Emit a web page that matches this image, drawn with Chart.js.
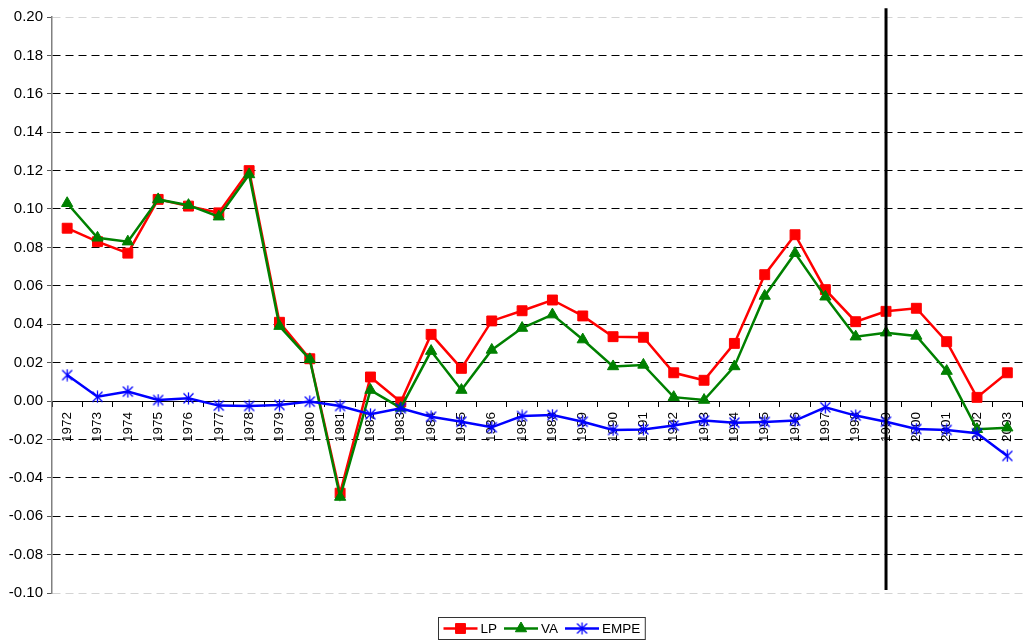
<!DOCTYPE html>
<html lang="en">
<head>
    <meta charset="UTF-8">
    <title>LP / VA / EMPE growth</title>
    <script src="https://cdn.jsdelivr.net/npm/chart.js"></script>
    <style>
        body {
            margin: 0;
            background: #ffffff;
            overflow: hidden;
        }
        #growth-chart {
            display: block;
        }
    </style>
</head>
<body>
    <canvas id="growth-chart" width="1031" height="641"></canvas>

    <script>
        // yearly growth rates
        const years = ['1972', '1973', '1974', '1975', '1976', '1977', '1978', '1979', '1980', '1981',
            '1982', '1983', '1984', '1985', '1986', '1987', '1988', '1989', '1990', '1991',
            '1992', '1993', '1994', '1995', '1996', '1997', '1998', '1999', '2000', '2001',
            '2002', '2003'];

        const lpValues = [0.090, 0.083, 0.077, 0.105, 0.1015, 0.098, 0.120, 0.041, 0.022, -0.048,
            0.0125, -0.0005, 0.0347, 0.017, 0.0417, 0.047, 0.0526, 0.0443, 0.0335, 0.0332,
            0.0147, 0.0108, 0.030, 0.0658, 0.0866, 0.058, 0.0413, 0.0467, 0.0483, 0.0309,
            0.0019, 0.0147];

        const vaValues = [0.103, 0.085, 0.083, 0.105, 0.102, 0.096, 0.118, 0.039, 0.0217, -0.050,
            0.0057, -0.0036, 0.026, 0.0057, 0.0266, 0.038, 0.045, 0.032, 0.018, 0.0188,
            0.002, 0.0005, 0.018, 0.0547, 0.077, 0.0543, 0.0335, 0.0356, 0.0339, 0.0156,
            -0.0147, -0.0139];

        const empeValues = [0.0135, 0.0022, 0.0049, 0.0005, 0.0014, -0.0024, -0.0026, -0.0021, -0.0003, -0.0026,
            -0.0069, -0.0038, -0.0082, -0.0108, -0.0137, -0.0078, -0.0073, -0.0108, -0.0151, -0.0148,
            -0.0128, -0.0102, -0.0113, -0.0109, -0.0102, -0.0033, -0.0076, -0.0108, -0.0146, -0.0151,
            -0.0168, -0.0286];

        const yTicks = { min: -0.10, max: 0.20, step: 0.02 };

        // vertical separator drawn at this year
        const breakYear = '1999';
        const breakSpan = [-0.0985, 0.2045];

        const FONT = "'Liberation Sans', Arial, sans-serif";

        // excel-like asterisk marker: an X with a vertical stroke
        function asteriskMarker(color) {
            const c = document.createElement('canvas');
            c.width = 13;
            c.height = 13;
            const g = c.getContext('2d');
            g.strokeStyle = color;
            g.lineWidth = 1.3;
            g.beginPath();
            g.moveTo(6.5, 0.5); g.lineTo(6.5, 12.5);
            g.moveTo(1.5, 1.5); g.lineTo(11.5, 11.5);
            g.moveTo(11.5, 1.5); g.lineTo(1.5, 11.5);
            g.stroke();
            return c;
        }

        const separatorAndLegend = {
            id: 'separatorAndLegend',
            afterDraw(chart) {
                const ctx = chart.ctx;
                const xs = chart.scales.x;
                const ys = chart.scales.y;

                // separator line
                const px = xs.getPixelForValue(years.indexOf(breakYear));
                ctx.save();
                ctx.strokeStyle = '#000';
                ctx.lineWidth = 3;
                ctx.beginPath();
                ctx.moveTo(px, ys.getPixelForValue(breakSpan[1]));
                ctx.lineTo(px, ys.getPixelForValue(breakSpan[0]));
                ctx.stroke();

                // legend box under the plot
                ctx.font = '13.5px ' + FONT;
                const lineLen = 34, textGap = 3, itemGap = 7, pad = 5;
                const items = chart.data.datasets;
                let total = pad * 2;
                items.forEach((ds, i) => {
                    total += lineLen + textGap + ctx.measureText(ds.label).width;
                    if (i < items.length - 1) total += itemGap;
                });
                const boxH = 22;
                const left = Math.round(541 - total / 2) + 0.5;
                const top = 617.5;

                ctx.strokeStyle = '#333';
                ctx.lineWidth = 1;
                ctx.strokeRect(left, top, total, boxH);

                let x = left + pad;
                const midY = top + boxH / 2;
                items.forEach(ds => {
                    ctx.strokeStyle = ds.borderColor;
                    ctx.fillStyle = ds.backgroundColor;
                    ctx.lineWidth = 2.5;
                    ctx.beginPath();
                    ctx.moveTo(x, midY);
                    ctx.lineTo(x + lineLen, midY);
                    ctx.stroke();
                    ctx.lineWidth = 1;
                    Chart.helpers.drawPoint(ctx, {
                        pointStyle: ds.pointStyle,
                        radius: ds.pointRadius,
                        rotation: 0,
                        borderWidth: 1
                    }, x + lineLen / 2, midY);
                    x += lineLen + textGap;
                    ctx.fillStyle = '#000';
                    ctx.textBaseline = 'middle';
                    ctx.textAlign = 'left';
                    ctx.fillText(ds.label, x, midY + 1);
                    x += ctx.measureText(ds.label).width + itemGap;
                });
                ctx.restore();
            }
        };

        const ctx = document.getElementById('growth-chart').getContext('2d');

        new Chart(ctx, {
            type: 'line',
            data: {
                labels: years,
                datasets: [
                    {
                        label: 'LP',
                        data: lpValues,
                        borderColor: '#ff0000',
                        backgroundColor: '#ff0000',
                        borderWidth: 2.5,
                        pointStyle: 'rect',
                        pointRadius: 7,
                        pointBorderWidth: 1,
                        tension: 0,
                        order: 3
                    },
                    {
                        label: 'VA',
                        data: vaValues,
                        borderColor: '#008000',
                        backgroundColor: '#008000',
                        borderWidth: 2.5,
                        pointStyle: 'triangle',
                        pointRadius: 6.5,
                        pointBorderWidth: 1,
                        tension: 0,
                        order: 2
                    },
                    {
                        label: 'EMPE',
                        data: empeValues,
                        borderColor: '#0000ff',
                        backgroundColor: '#0000ff',
                        borderWidth: 2.5,
                        pointStyle: asteriskMarker('#0000ff'),
                        pointRadius: 6,
                        tension: 0,
                        order: 1
                    }
                ]
            },
            options: {
                responsive: false,
                animation: false,
                layout: {
                    padding: { top: 17, bottom: 48, left: 0, right: 0 }
                },
                plugins: {
                    legend: { display: false },
                    tooltip: { enabled: false }
                },
                scales: {
                    x: {
                        type: 'category',
                        position: { y: 0 },
                        offset: true,
                        grid: {
                            offset: true,
                            drawOnChartArea: false,
                            tickLength: 5,
                            color: '#000'
                        },
                        border: { color: '#000', width: 1 },
                        ticks: {
                            autoSkip: false,
                            minRotation: 90,
                            maxRotation: 90,
                            padding: 6,
                            color: '#000',
                            font: { family: FONT, size: 13.5 }
                        },
                        afterFit(scale) {
                            scale.height = 0;
                        }
                    },
                    y: {
                        min: yTicks.min,
                        max: yTicks.max,
                        ticks: {
                            stepSize: yTicks.step,
                            padding: 4,
                            color: '#000',
                            font: { family: FONT, size: 15 },
                            callback: v => Number(v).toFixed(2)
                        },
                        grid: {
                            tickLength: 5,
                            tickColor: '#555',
                            color: c => {
                                const v = c.tick ? c.tick.value : 0;
                                return (v > 0.199 || v < -0.099) ? '#d4d4d4' : '#000';
                            }
                        },
                        border: { color: '#808080', width: 1.5, dash: [8, 5] },
                        afterFit(scale) {
                            scale.width = 52;
                        }
                    }
                }
            },
            plugins: [separatorAndLegend]
        });
    </script>
</body>
</html>
